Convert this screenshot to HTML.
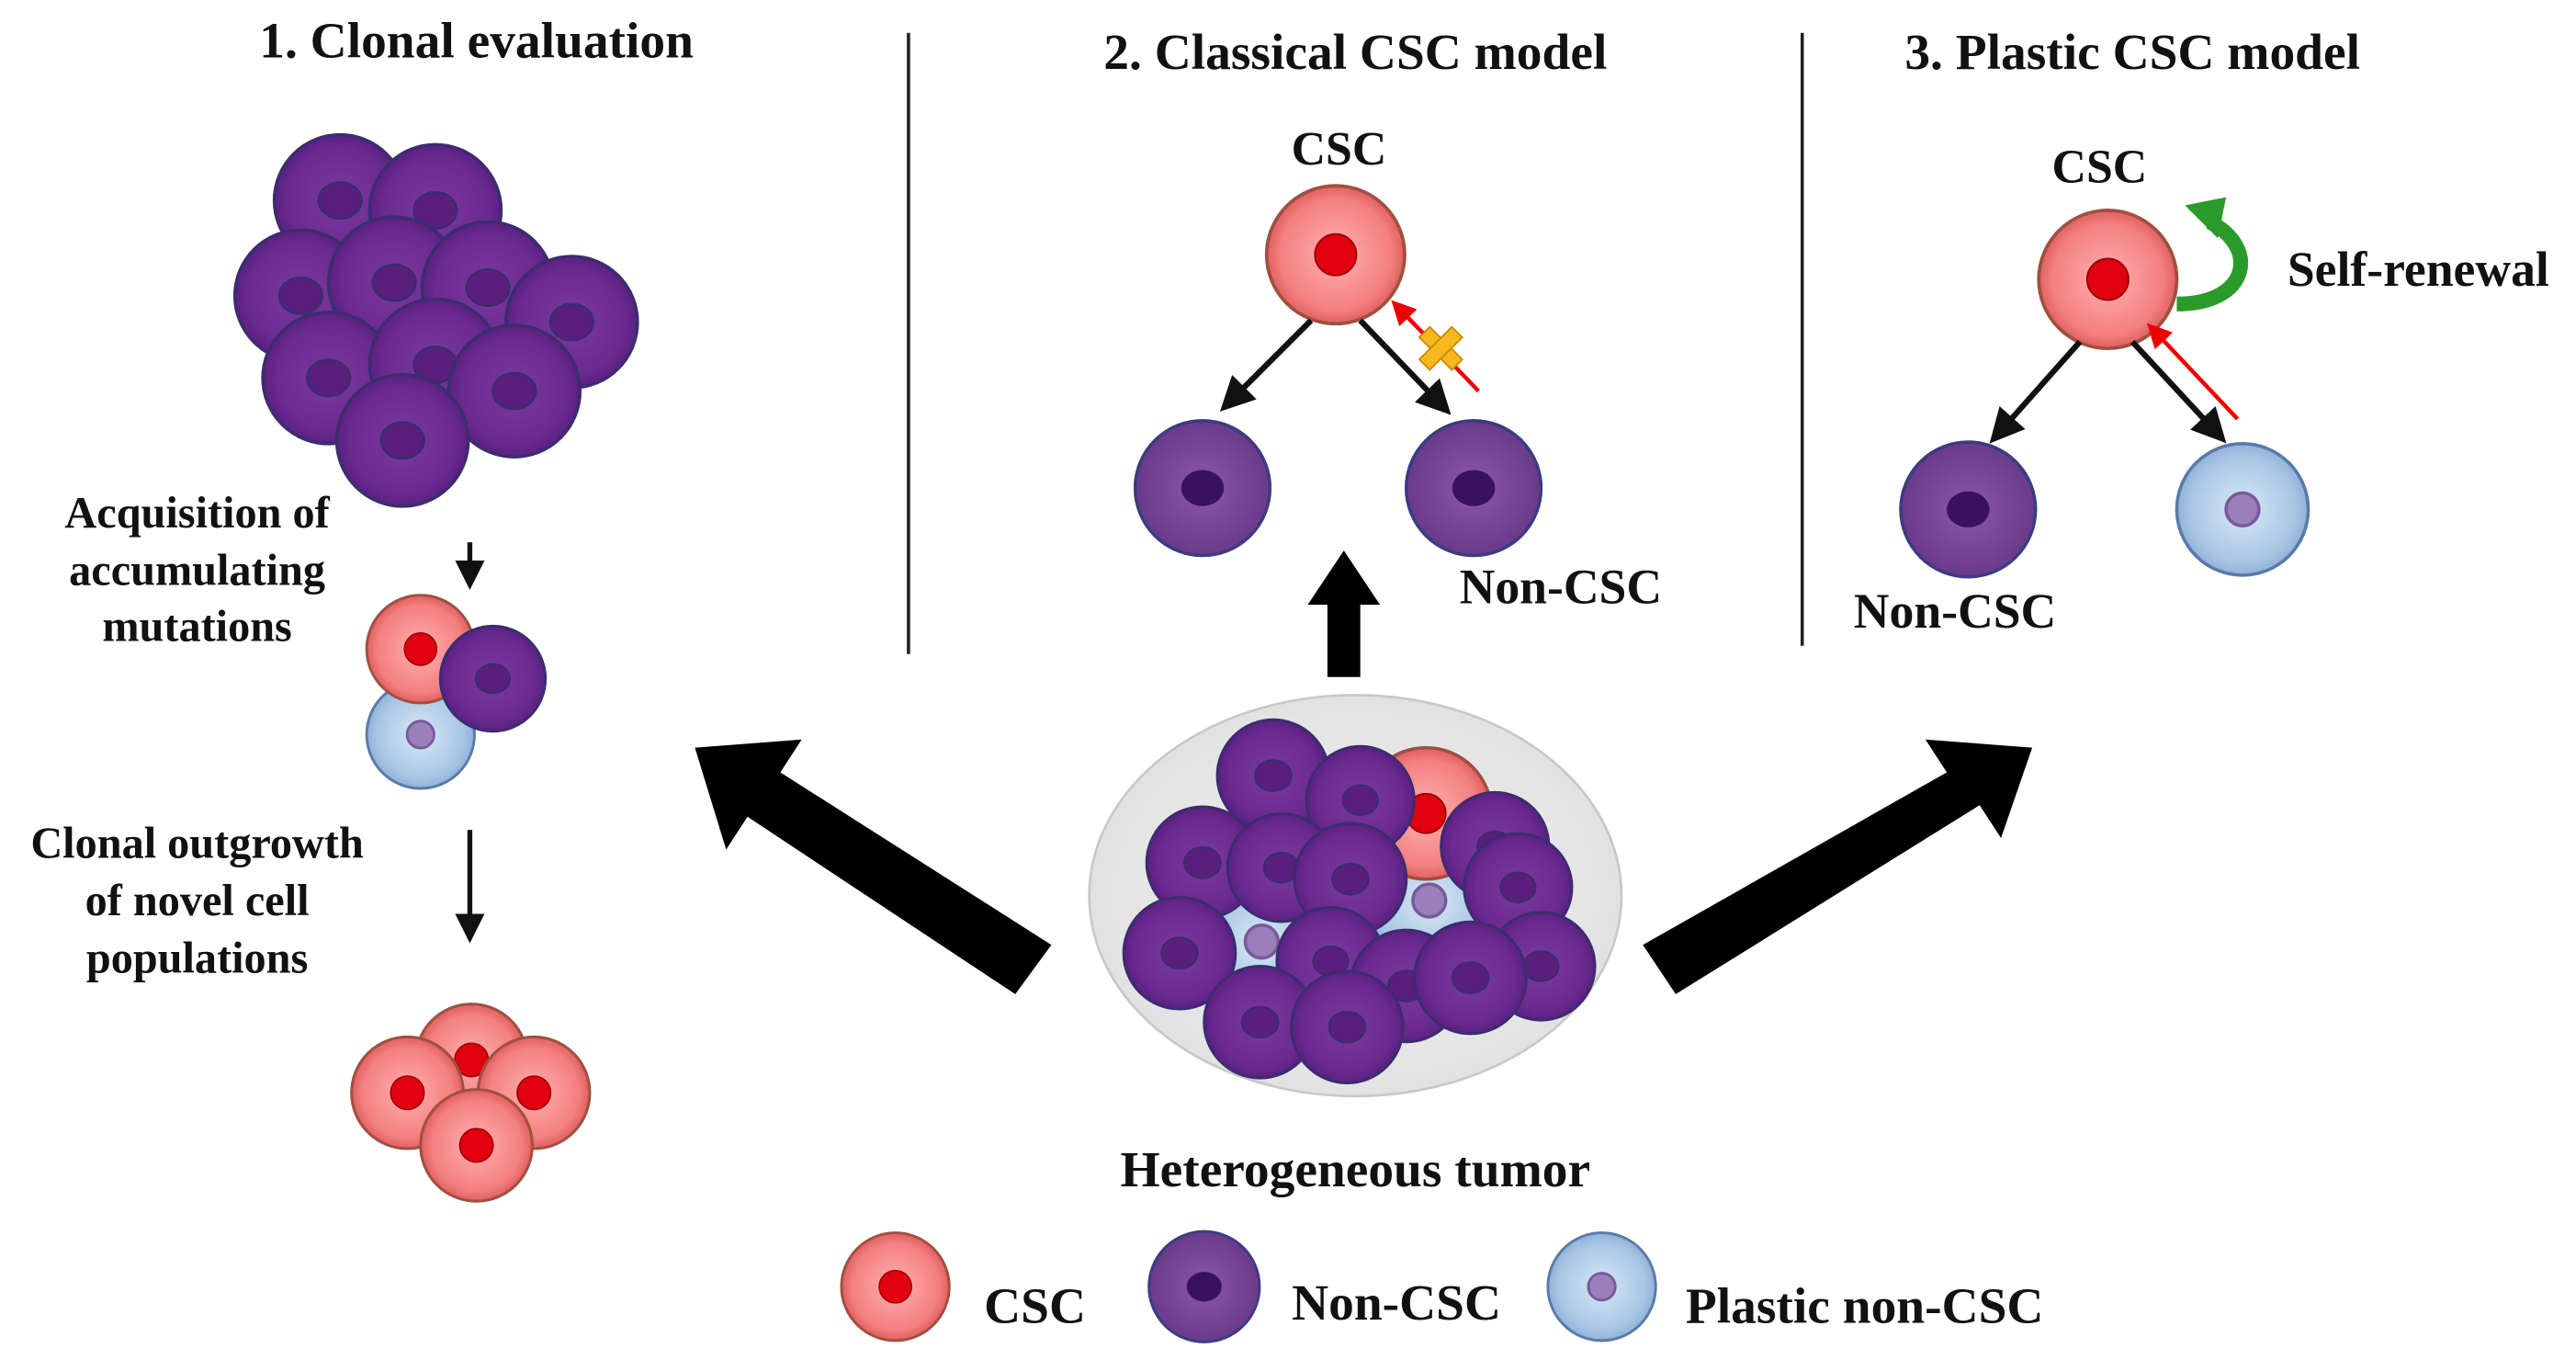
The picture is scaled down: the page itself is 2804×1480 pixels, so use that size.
<!DOCTYPE html>
<html><head><meta charset="utf-8"><style>
html,body{margin:0;padding:0;background:#fff;}
svg{display:block;}
text{font-family:"Liberation Serif",serif;font-weight:bold;fill:#111;}
</style></head><body>
<svg width="2804" height="1480" viewBox="0 0 1568 827.6" xmlns="http://www.w3.org/2000/svg">
<defs>
<radialGradient id="gp" cx="50%" cy="50%" r="50%"><stop offset="0" stop-color="#7a3aa0"/><stop offset="0.8" stop-color="#6a2a90"/><stop offset="1" stop-color="#5a2080"/></radialGradient>
<radialGradient id="gr" cx="50%" cy="50%" r="50%"><stop offset="0" stop-color="#ffb0b0"/><stop offset="0.8" stop-color="#f48080"/><stop offset="1" stop-color="#e06060"/></radialGradient>
<radialGradient id="gb" cx="50%" cy="50%" r="50%"><stop offset="0" stop-color="#d8e8f6"/><stop offset="0.8" stop-color="#a8c6e4"/><stop offset="1" stop-color="#90b2d8"/></radialGradient>
<radialGradient id="gm" cx="50%" cy="50%" r="50%"><stop offset="0" stop-color="#8a5aa8"/><stop offset="1" stop-color="#6a3a8a"/></radialGradient>
<radialGradient id="gt" cx="50%" cy="50%" r="50%"><stop offset="0" stop-color="#f4f4f4"/><stop offset="1" stop-color="#e2e2e2"/></radialGradient>
<g id="P"><circle r="40" fill="url(#gp)" stroke="#3c2c70" stroke-width="2"/><ellipse rx="13" ry="11" fill="#5a1f7c" stroke="#3c2c70" stroke-width="1.5"/></g>
<g id="M"><circle r="41" fill="url(#gm)" stroke="#3c3c80" stroke-width="2"/><ellipse rx="13" ry="11" fill="#3a1060"/></g>
<g id="R"><circle r="40" fill="url(#gr)" stroke="#a05040" stroke-width="2"/><circle r="12" fill="#e00010" stroke="#900" stroke-width="1"/></g>
<g id="B"><circle r="40" fill="url(#gb)" stroke="#5a7aa8" stroke-width="2"/><circle r="10" fill="#9a80b8" stroke="#7a5a9a" stroke-width="2"/></g>
<marker id="ah" markerWidth="6" markerHeight="6" refX="3" refY="3" orient="auto"><path d="M0,0 L6,3 L0,6z" fill="#111"/></marker>
<marker id="ahr" markerWidth="6" markerHeight="6" refX="3" refY="3" orient="auto"><path d="M0,0 L6,3 L0,6z" fill="#e00"/></marker>
</defs>

<!-- titles -->
<text x="290" y="35" font-size="31" text-anchor="middle">1. Clonal evaluation</text>
<text x="825" y="42" font-size="31" text-anchor="middle">2. Classical CSC model</text>
<text x="1298" y="42" font-size="31" text-anchor="middle">3. Plastic CSC model</text>
<line x1="553" y1="20" x2="553" y2="398" stroke="#222" stroke-width="2"/>
<line x1="1097" y1="20" x2="1097" y2="393" stroke="#222" stroke-width="2"/>

<!-- panel 1 -->
<use href="#P" x="207" y="122"/><use href="#P" x="265" y="128"/>
<use href="#P" x="183" y="180"/><use href="#P" x="240" y="172"/><use href="#P" x="297" y="175"/>
<use href="#P" x="348" y="196"/>
<use href="#P" x="200" y="230"/><use href="#P" x="265" y="222"/><use href="#P" x="313" y="238"/>
<use href="#P" x="245" y="268"/>
<line x1="286" y1="330" x2="286" y2="350" stroke="#111" stroke-width="3" marker-end="url(#ah)"/>
<text x="120" y="321" font-size="27" text-anchor="middle">Acquisition of</text>
<text x="120" y="356" font-size="27" text-anchor="middle">accumulating</text>
<text x="120" y="390" font-size="27" text-anchor="middle">mutations</text>
<g transform="translate(256,447) scale(0.82)"><use href="#B"/></g>
<g transform="translate(256,395) scale(0.82)"><use href="#R"/></g>
<g transform="translate(300,413) scale(0.8)"><use href="#P"/></g>
<line x1="286" y1="505" x2="286" y2="565" stroke="#111" stroke-width="3" marker-end="url(#ah)"/>
<text x="120" y="522" font-size="27" text-anchor="middle">Clonal outgrowth</text>
<text x="120" y="557" font-size="27" text-anchor="middle">of novel cell</text>
<text x="120" y="592" font-size="27" text-anchor="middle">populations</text>
<g transform="translate(287,645) scale(0.85)"><use href="#R"/></g>
<g transform="translate(248,665) scale(0.85)"><use href="#R"/></g>
<g transform="translate(325,665) scale(0.85)"><use href="#R"/></g>
<g transform="translate(290,697) scale(0.85)"><use href="#R"/></g>

<!-- panel 2 -->
<text x="815" y="100" font-size="29" text-anchor="middle">CSC</text>
<g transform="translate(813,155) scale(1.05)"><use href="#R"/></g>
<line x1="798" y1="195" x2="750" y2="243" stroke="#111" stroke-width="3.5" marker-end="url(#ah)"/>
<line x1="828" y1="195" x2="876" y2="245" stroke="#111" stroke-width="3.5" marker-end="url(#ah)"/>
<line x1="900" y1="238" x2="852" y2="188" stroke="#e00" stroke-width="2.5" marker-end="url(#ahr)"/>
<g transform="translate(877,212) rotate(45)"><rect x="-14" y="-4.5" width="28" height="9" fill="#f5b820" stroke="#c88a00"/><rect x="-4.5" y="-14" width="9" height="28" fill="#f5b820" stroke="#c88a00"/></g>
<use href="#M" x="732" y="297"/><use href="#M" x="897" y="297"/>
<text x="950" y="367" font-size="30" text-anchor="middle">Non-CSC</text>
<polygon points="818,335 840,368 828,368 828,412 808,412 808,368 796,368" fill="#000"/>

<!-- panel 3 -->
<text x="1278" y="111" font-size="29" text-anchor="middle">CSC</text>
<g transform="translate(1283,170) scale(1.05)"><use href="#R"/></g>
<path d="M1325,185 C1370,185 1375,150 1345,135" fill="none" stroke="#2a9a2a" stroke-width="9"/>
<polygon points="1330,125 1355,120 1350,145" fill="#2a9a2a"/>
<text x="1472" y="174" font-size="30" text-anchor="middle">Self-renewal</text>
<line x1="1266" y1="208" x2="1218" y2="262" stroke="#111" stroke-width="3.5" marker-end="url(#ah)"/>
<line x1="1298" y1="208" x2="1348" y2="262" stroke="#111" stroke-width="3.5" marker-end="url(#ah)"/>
<line x1="1362" y1="255" x2="1312" y2="202" stroke="#e00" stroke-width="2.5" marker-end="url(#ahr)"/>
<use href="#M" x="1198" y="310"/><use href="#B" x="1365" y="310"/>
<text x="1190" y="382" font-size="30" text-anchor="middle">Non-CSC</text>

<!-- big arrows -->
<polygon points="640,575 618,605 455,497 442,517 423,455 488,450 475,470" fill="#000"/>
<polygon points="1000,575 1020,605 1205,490 1218,510 1237,455 1172,450 1185,470" fill="#000"/>

<!-- tumor -->
<ellipse cx="825" cy="545" rx="162" ry="122" fill="url(#gt)" stroke="#c8c8c8" stroke-width="1.5"/>
<ellipse cx="830" cy="560" rx="110" ry="60" fill="#a8c6e4"/>
<use href="#B" x="870" y="548"/><use href="#B" x="768" y="573"/>
<use href="#R" x="868" y="495"/>
<g transform="translate(775,472) scale(0.85)"><use href="#P"/></g>
<g transform="translate(828,487) scale(0.82)"><use href="#P"/></g>
<g transform="translate(910,515) scale(0.82)"><use href="#P"/></g>
<g transform="translate(732,525) scale(0.85)"><use href="#P"/></g>
<g transform="translate(780,528) scale(0.82)"><use href="#P"/></g>
<g transform="translate(822,535) scale(0.85)"><use href="#P"/></g>
<g transform="translate(924,540) scale(0.82)"><use href="#P"/></g>
<g transform="translate(718,580) scale(0.85)"><use href="#P"/></g>
<g transform="translate(810,585) scale(0.82)"><use href="#P"/></g>
<g transform="translate(856,600) scale(0.85)"><use href="#P"/></g>
<g transform="translate(938,588) scale(0.82)"><use href="#P"/></g>
<g transform="translate(895,595) scale(0.85)"><use href="#P"/></g>
<g transform="translate(767,622) scale(0.85)"><use href="#P"/></g>
<g transform="translate(820,625) scale(0.85)"><use href="#P"/></g>
<text x="825" y="722" font-size="31" text-anchor="middle">Heterogeneous tumor</text>

<!-- legend -->
<g transform="translate(545,783) scale(0.82)"><use href="#R"/></g>
<text x="630" y="805" font-size="31" text-anchor="middle">CSC</text>
<g transform="translate(733,783) scale(0.82)"><use href="#M"/></g>
<text x="850" y="803" font-size="31" text-anchor="middle">Non-CSC</text>
<g transform="translate(975,783) scale(0.82)"><use href="#B"/></g>
<text x="1135" y="805" font-size="31" text-anchor="middle">Plastic non-CSC</text>
</svg>
</body></html>
